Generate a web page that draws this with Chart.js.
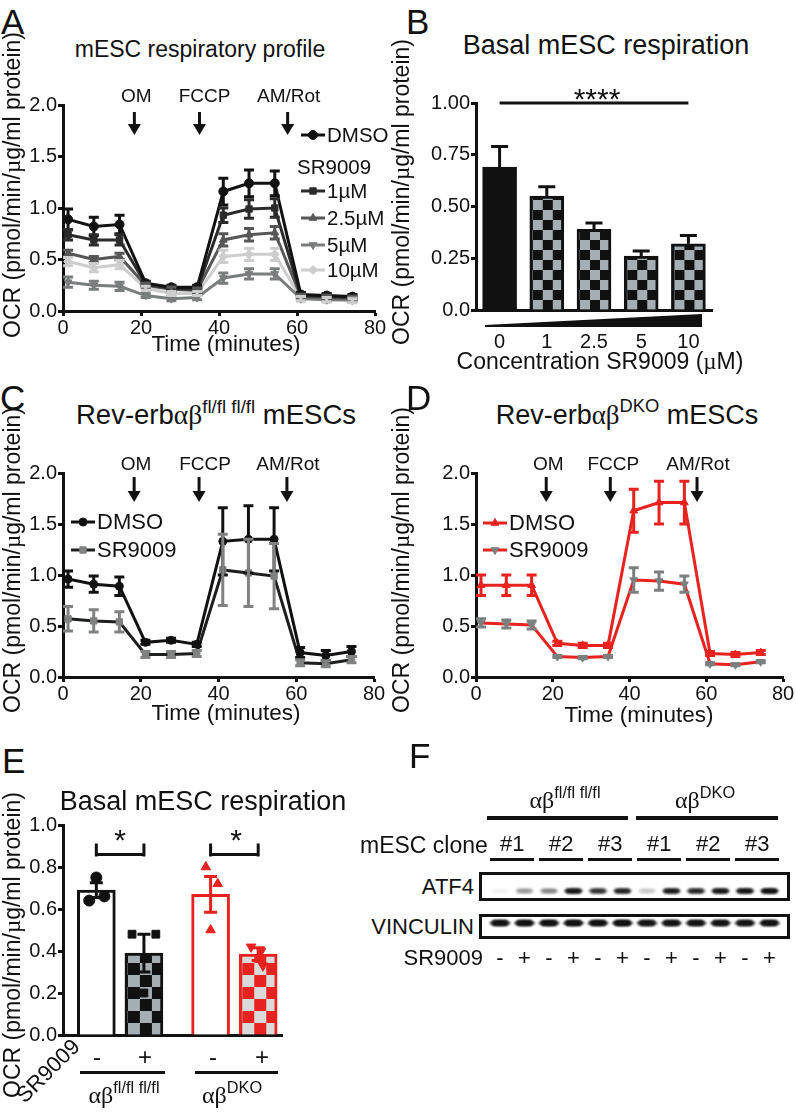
<!DOCTYPE html>
<html lang="en">
<head>
<meta charset="UTF-8">
<title>SR9009 and mESC respiration</title>
<script src="https://cdn.jsdelivr.net/npm/chart.js"></script>
<style>
  body { margin: 0; background: #fff; }
  #fig { position: relative; width: 796px; height: 1118px; overflow: hidden;
         font-family: "Liberation Sans", Arial, sans-serif; color: #111; }
  #fig canvas { position: absolute; }
  .t { position: absolute; white-space: nowrap; line-height: 1; }
  .t sup { font-size: 0.68em; vertical-align: 0.6em; line-height: 0; }
  .gr { font-family: "Liberation Serif", "DejaVu Serif", serif; }
  .rule { position: absolute; background: #111; }
  .box { position: absolute; border: 3px solid #111; box-sizing: border-box; }
</style>
</head>
<body>
<div id="fig">
  <canvas id="chartA" width="400" height="280" style="left:0;top:80px"></canvas>
  <canvas id="chartB" width="396" height="300" style="left:400px;top:80px"></canvas>
  <canvas id="chartC" width="400" height="290" style="left:0;top:440px"></canvas>
  <canvas id="chartD" width="396" height="290" style="left:400px;top:440px"></canvas>
  <canvas id="chartE" width="300" height="260" style="left:0;top:790px"></canvas>
  <div class="box" style="left:479px;top:872px;width:311px;height:29px"></div>
  <div class="box" style="left:479px;top:914px;width:311px;height:25px"></div>
  <canvas id="chartF" width="311" height="78" style="left:479px;top:868px"></canvas>
</div>
<script>
  // ---- data ----
  const timeMin = [1.3, 7.9, 14.5, 21.2, 27.8, 34.4, 41.1, 47.7, 54.3, 61.0, 67.6, 74.2];
  const injectNames = ['OM', 'FCCP', 'AM/Rot'];
  const injectTimes = [18.3, 35.0, 57.6];

  // A: respiratory profile, SR9009 dose series
  const aDMSO    = [0.89, 0.82, 0.84, 0.27, 0.23, 0.23, 1.16, 1.24, 1.24, 0.16, 0.15, 0.14];
  const aDMSOErr = [0.10, 0.09, 0.09, 0.02, 0.02, 0.02, 0.13, 0.13, 0.12, 0.02, 0.02, 0.02];
  const a1uM     = [0.74, 0.69, 0.69, 0.26, 0.22, 0.21, 0.93, 0.99, 1.00, 0.15, 0.14, 0.13];
  const a1uMErr  = [0.05, 0.05, 0.05, 0.02, 0.02, 0.02, 0.07, 0.09, 0.09, 0.02, 0.02, 0.02];
  const a25uM    = [0.56, 0.50, 0.53, 0.25, 0.21, 0.20, 0.69, 0.74, 0.76, 0.14, 0.13, 0.12];
  const a25uMErr = [0.03, 0.03, 0.03, 0.02, 0.02, 0.02, 0.06, 0.06, 0.06, 0.02, 0.02, 0.02];
  const a5uM     = [0.28, 0.25, 0.24, 0.15, 0.12, 0.13, 0.32, 0.36, 0.36, 0.12, 0.11, 0.11];
  const a5uMErr  = [0.05, 0.04, 0.04, 0.02, 0.02, 0.02, 0.05, 0.05, 0.05, 0.02, 0.02, 0.02];
  const a10uM    = [0.48, 0.42, 0.45, 0.22, 0.17, 0.17, 0.53, 0.55, 0.55, 0.12, 0.11, 0.10];
  const a10uMErr = [0.04, 0.04, 0.04, 0.02, 0.02, 0.02, 0.06, 0.06, 0.06, 0.02, 0.02, 0.02];

  // B: basal respiration by dose
  const bLabels = ['0', '1', '2.5', '5', '10'];
  const bMean   = [0.69, 0.55, 0.39, 0.26, 0.32];
  const bErr    = [0.10, 0.045, 0.03, 0.025, 0.04];

  // C: floxed cells
  const cDMSO    = [0.96, 0.91, 0.89, 0.34, 0.36, 0.32, 1.33, 1.35, 1.35, 0.24, 0.21, 0.25];
  const cDMSOErr = [0.08, 0.08, 0.09, 0.02, 0.02, 0.02, 0.33, 0.33, 0.31, 0.05, 0.05, 0.05];
  const cSR      = [0.57, 0.55, 0.54, 0.22, 0.22, 0.23, 1.05, 1.02, 0.99, 0.14, 0.13, 0.17];
  const cSRErr   = [0.12, 0.11, 0.10, 0.03, 0.03, 0.03, 0.35, 0.33, 0.32, 0.03, 0.03, 0.03];

  // D: DKO cells
  const dDMSO    = [0.90, 0.90, 0.90, 0.33, 0.31, 0.31, 1.63, 1.71, 1.71, 0.23, 0.22, 0.24];
  const dDMSOErr = [0.10, 0.10, 0.10, 0.02, 0.02, 0.02, 0.21, 0.21, 0.21, 0.02, 0.02, 0.02];
  const dSR      = [0.53, 0.52, 0.51, 0.20, 0.19, 0.20, 0.95, 0.94, 0.91, 0.13, 0.12, 0.15];
  const dSRErr   = [0.04, 0.04, 0.04, 0.01, 0.01, 0.01, 0.12, 0.09, 0.08, 0.01, 0.01, 0.01];

  // E: basal respiration, genotype x SR9009
  const eMean = [0.69, 0.39, 0.67, 0.385];
  const eErr  = [0.035, 0.09, 0.085, 0.03];
  const eDots = [[0.75, 0.64, 0.66], [0.48, 0.48, 0.20], [0.80, 0.72, 0.50], [0.42, 0.40, 0.33]];

  // F: blot band strength per lane (0..1)
  const fSR9009  = ['-', '+', '-', '+', '-', '+', '-', '+', '-', '+', '-', '+'];
  const fClones  = ['#1', '#2', '#3', '#1', '#2', '#3'];
  const atf4Band = [0.03, 0.25, 0.3, 0.9, 0.65, 0.75, 0.12, 0.82, 0.72, 0.86, 0.9, 0.97];
  const vinBand  = [0.95, 0.95, 0.97, 0.97, 0.97, 1.0, 0.9, 0.93, 0.93, 0.93, 0.9, 0.95];

  // ---- layout-only numbers ----
  const eBarX = [0.7, 1.7, 3.1, 4.1];
  const eJitter = [[0, -0.15, 0.17], [-0.25, 0.25, 0], [-0.1, 0.15, 0], [-0.15, 0.06, 0.1]];

  const FONT = "'Liberation Sans', Arial, sans-serif";
  const RED = '#e8221e';
  Chart.defaults.font.family = FONT;
  Chart.defaults.color = '#111';
  Chart.defaults.animation = false;
  Chart.defaults.responsive = false;
  Chart.defaults.devicePixelRatio = 1;
  Chart.defaults.events = [];
  Chart.defaults.plugins.legend.display = false;
  Chart.defaults.plugins.tooltip.enabled = false;

  // error bars for any dataset carrying an err array
  const errorBars = {
    id: 'errorBars',
    afterDatasetsDraw(chart) {
      const ctx = chart.ctx, ys = chart.scales.y;
      chart.data.datasets.forEach((ds, di) => {
        if (!ds.err) return;
        const meta = chart.getDatasetMeta(di);
        const cap = ds.capWidth || 10;
        ctx.save();
        ctx.lineWidth = 3;
        meta.data.forEach((el, i) => {
          const d = ds.data[i];
          const v = typeof d === 'object' ? d.y : d;
          const top = ys.getPixelForValue(v + ds.err[i]);
          const bot = ds.errUpOnly ? el.y : ys.getPixelForValue(v - ds.err[i]);
          ctx.strokeStyle = Array.isArray(ds.errColor) ? ds.errColor[i] : ds.errColor;
          ctx.beginPath();
          ctx.moveTo(el.x, top); ctx.lineTo(el.x, bot);
          ctx.moveTo(el.x - cap / 2, top); ctx.lineTo(el.x + cap / 2, top);
          if (!ds.errUpOnly) { ctx.moveTo(el.x - cap / 2, bot); ctx.lineTo(el.x + cap / 2, bot); }
          ctx.stroke();
        });
        ctx.restore();
      });
    }
  };

  // injection arrows above the time courses
  function injectionPlugin(labelY, top, bottom, dx) {
    return {
      id: 'injections',
      afterDraw(chart) {
        const ctx = chart.ctx, xs = chart.scales.x;
        ctx.save();
        ctx.fillStyle = '#111'; ctx.strokeStyle = '#111';
        ctx.font = '19px ' + FONT; ctx.textAlign = 'center'; ctx.textBaseline = 'middle';
        injectTimes.forEach((t, i) => {
          const x = xs.getPixelForValue(t);
          ctx.fillText(injectNames[i], x + dx[i], labelY);
          ctx.lineWidth = 3;
          ctx.beginPath(); ctx.moveTo(x, top); ctx.lineTo(x, bottom - 6); ctx.stroke();
          ctx.beginPath();
          ctx.moveTo(x - 6.5, bottom - 11); ctx.lineTo(x + 6.5, bottom - 11); ctx.lineTo(x, bottom);
          ctx.closePath(); ctx.fill();
        });
        ctx.restore();
      }
    };
  }

  // line + marker legend drawn in the plot
  function legendPlugin(items, size) {
    return {
      id: 'swatches',
      afterDraw(chart) {
        const ctx = chart.ctx;
        ctx.save();
        ctx.font = size + 'px ' + FONT;
        ctx.textBaseline = 'middle';
        items.forEach(it => {
          if (it.ds === undefined) {
            ctx.fillStyle = '#111';
            ctx.fillText(it.text, it.x, it.y + 1);
            return;
          }
          const ds = chart.data.datasets[it.ds];
          ctx.strokeStyle = ds.borderColor; ctx.lineWidth = 3;
          ctx.beginPath(); ctx.moveTo(it.x, it.y); ctx.lineTo(it.x + 24, it.y); ctx.stroke();
          ctx.fillStyle = ds.pointBackgroundColor; ctx.strokeStyle = ds.pointBorderColor; ctx.lineWidth = 1;
          Chart.helpers.drawPoint(ctx, { pointStyle: ds.pointStyle, radius: ds.pointRadius,
            rotation: ds.pointRotation || 0, borderWidth: 1 }, it.x + 12, it.y);
          ctx.fillStyle = '#111';
          ctx.fillText(it.text, it.x + 26, it.y + 1);
        });
        ctx.restore();
      }
    };
  }

  function checker(chart, c1, c2, cell, ox, oy) {
    const off = document.createElement('canvas');
    off.width = off.height = cell * 2;
    const g = off.getContext('2d');
    g.fillStyle = c1; g.fillRect(0, 0, cell * 2, cell * 2);
    g.fillStyle = c2; g.fillRect(cell, 0, cell, cell); g.fillRect(0, cell, cell, cell);
    const p = chart.ctx.createPattern(off, 'repeat');
    p.setTransform(new DOMMatrix([1, 0, 0, 1, ox, oy]));
    return p;
  }
  function barChecker(c, thick, c1, c2, cell) {
    const xs = c.chart.scales.x, ys = c.chart.scales.y;
    if (c.raw === undefined || !xs || !ys) return c2;
    const xv = typeof c.raw === 'object' ? c.raw.x : c.dataIndex;
    return checker(c.chart, c1, c2, cell, xs.getPixelForValue(xv) - thick / 2 + 3, ys.getPixelForValue(0));
  }

  // soft blot band used as a point marker
  function bandImage(strength, w, h) {
    const c = document.createElement('canvas');
    c.width = w + 6; c.height = h + 6;
    const g = c.getContext('2d');
    g.filter = 'blur(0.8px)';
    g.fillStyle = `rgba(18,18,18,${strength})`;
    g.beginPath();
    g.ellipse(c.width / 2, c.height / 2, w / 2, h / 2, 0, 0, Math.PI * 2);
    g.fill();
    g.fillRect(3 + h / 2, 3, w - h, h);
    return c;
  }

  function lineSeries(vals, errs, color, markColor, style, rot) {
    return {
      data: timeMin.map((t, i) => ({ x: t, y: vals[i] })),
      err: errs, errColor: markColor,
      borderColor: color, backgroundColor: markColor,
      pointBackgroundColor: markColor, pointBorderColor: markColor,
      pointStyle: style, pointRotation: rot || 0,
      pointRadius: 4.5, pointBorderWidth: 1, borderWidth: 3
    };
  }
  function timeAxis() {
    return {
      type: 'linear', min: 0, max: 80,
      ticks: { stepSize: 20, font: { size: 20 }, color: '#111', padding: 0 },
      grid: { drawOnChartArea: false, tickLength: 5, tickWidth: 3, tickColor: '#111' },
      border: { color: '#111', width: 3 },
      afterFit: s => { s.height = 30; }
    };
  }
  function valueAxis(max, step, digits, width) {
    return {
      min: 0, max: max,
      ticks: { stepSize: step, font: { size: 20 }, color: '#111', padding: 1,
               callback: v => v === 0 ? '0.0' : v.toFixed(digits) },
      grid: { drawOnChartArea: false, tickLength: 5, tickWidth: 3, tickColor: '#111' },
      border: { color: '#111', width: 3 },
      afterFit: s => { s.width = width; }
    };
  }

  // ---- A ----
  new Chart(document.getElementById('chartA'), {
    type: 'line',
    data: { datasets: [
      lineSeries(aDMSO, aDMSOErr, '#111', '#111', 'circle'),
      lineSeries(a1uM, a1uMErr, '#2b2b2b', '#2b2b2b', 'rect'),
      lineSeries(a25uM, a25uMErr, '#575757', '#575757', 'triangle'),
      lineSeries(a5uM, a5uMErr, '#7a7d7d', '#7a7d7d', 'triangle', 180),
      lineSeries(a10uM, a10uMErr, '#cdcdcd', '#cdcdcd', 'rectRot')
    ]},
    options: {
      layout: { padding: { left: 0, top: 25, right: 25, bottom: 19 } },
      scales: { x: timeAxis(), y: valueAxis(2, 0.5, 1, 63) }
    },
    plugins: [errorBars, injectionPlugin(17, 32, 55, [2, 5, 1]), legendPlugin([
      { ds: 0, x: 301, y: 55, text: 'DMSO' },
      { x: 297, y: 87, text: 'SR9009' },
      { ds: 1, x: 301, y: 111, text: '1µM' },
      { ds: 2, x: 301, y: 138, text: '2.5µM' },
      { ds: 3, x: 301, y: 165, text: '5µM' },
      { ds: 4, x: 301, y: 190, text: '10µM' }
    ], 20.5)]
  });

  // ---- B ----
  const sigLineB = {
    id: 'sigLine',
    afterDraw(chart) {
      const ctx = chart.ctx, xs = chart.scales.x, ys = chart.scales.y;
      ctx.save(); ctx.strokeStyle = '#111'; ctx.lineWidth = 3;
      ctx.beginPath();
      ctx.moveTo(xs.getPixelForValue(0), ys.getPixelForValue(1));
      ctx.lineTo(xs.getPixelForValue(bLabels.length - 1), ys.getPixelForValue(1));
      ctx.stroke(); ctx.restore();
    }
  };
  new Chart(document.getElementById('chartB'), {
    type: 'bar',
    data: { labels: bLabels, datasets: [{
      data: bMean, err: bErr, errUpOnly: true, errColor: '#111', capWidth: 17,
      barThickness: 34, borderWidth: 3, borderColor: '#111',
      backgroundColor: c => c.dataIndex === 0 ? '#111' : barChecker(c, 34, '#111', '#a4aeb3', 10)
    }]},
    options: {
      layout: { padding: { left: 0, top: 23, right: 84, bottom: 20 } },
      scales: {
        x: { ticks: { font: { size: 20 }, color: '#111', padding: 20 },
             grid: { drawOnChartArea: false, drawTicks: false },
             border: { color: '#111', width: 3 },
             afterFit: s => { s.height = 50; } },
        y: valueAxis(1, 0.25, 2, 76)
      }
    },
    plugins: [errorBars, sigLineB]
  });

  // ---- C ----
  new Chart(document.getElementById('chartC'), {
    type: 'line',
    data: { datasets: [
      Object.assign(lineSeries(cDMSO, cDMSOErr, '#111', '#111', 'circle'), { pointRadius: 4 }),
      lineSeries(cSR, cSRErr, '#1e1e1e', '#808282', 'rect')
    ]},
    options: {
      layout: { padding: { left: 0, top: 33, right: 26, bottom: 23 } },
      scales: { x: timeAxis(), y: valueAxis(2, 0.5, 1, 63) }
    },
    plugins: [errorBars, injectionPlugin(25, 37, 62, [2, 6, 1]), legendPlugin([
      { ds: 0, x: 71, y: 82, text: 'DMSO' },
      { ds: 1, x: 71, y: 110, text: 'SR9009' }
    ], 22)]
  });

  // ---- D ----
  new Chart(document.getElementById('chartD'), {
    type: 'line',
    data: { datasets: [
      lineSeries(dDMSO, dDMSOErr, RED, RED, 'triangle'),
      lineSeries(dSR, dSRErr, RED, '#7b7f80', 'triangle', 180)
    ]},
    options: {
      layout: { padding: { left: 0, top: 33, right: 13, bottom: 23 } },
      scales: { x: timeAxis(), y: valueAxis(2, 0.5, 1, 76) }
    },
    plugins: [errorBars, injectionPlugin(25, 37, 62, [2, 3, 1]), legendPlugin([
      { ds: 0, x: 83, y: 83, text: 'DMSO' },
      { ds: 1, x: 83, y: 110, text: 'SR9009' }
    ], 22)]
  });

  // ---- E ----
  const eBrackets = {
    id: 'brackets',
    afterDraw(chart) {
      const ctx = chart.ctx, xs = chart.scales.x, ys = chart.scales.y;
      ctx.save(); ctx.strokeStyle = '#111'; ctx.lineWidth = 3;
      [[0, 1], [2, 3]].forEach(([a, b]) => {
        const x1 = xs.getPixelForValue(eBarX[a]), x2 = xs.getPixelForValue(eBarX[b]);
        const y = ys.getPixelForValue(0.86);
        ctx.beginPath();
        ctx.moveTo(x1, y - 11); ctx.lineTo(x1, y + 2);
        ctx.moveTo(x1, y); ctx.lineTo(x2, y);
        ctx.moveTo(x2, y - 11); ctx.lineTo(x2, y + 2);
        ctx.stroke();
      });
      ctx.restore();
    }
  };
  const eStyles = [
    { style: 'circle', color: '#111', rot: 0 },
    { style: 'rect', color: '#111', rot: 0 },
    { style: 'triangle', color: RED, rot: 0 },
    { style: 'triangle', color: RED, rot: 180 }
  ];
  const eBgs = [
    () => '#fff',
    c => barChecker(c, 38, '#111', '#a4aeb3', 12),
    () => '#fff',
    c => barChecker(c, 38, RED, '#dadada', 12)
  ];
  new Chart(document.getElementById('chartE'), {
    type: 'bar',
    data: { datasets: [
      {
        type: 'bar', order: 2,
        data: eBarX.map((x, i) => ({ x: x, y: eMean[i] })),
        err: eErr, errColor: ['#111', '#111', RED, RED], capWidth: 13,
        barThickness: 38, borderWidth: 3,
        borderColor: ['#111', '#111', RED, RED],
        backgroundColor: c => c.dataIndex === undefined ? '#fff' : eBgs[c.dataIndex](c)
      }
    ].concat(eDots.map((dots, g) => ({
      type: 'scatter', order: 0,
      data: dots.map((v, k) => ({ x: eBarX[g] + eJitter[g][k], y: v })),
      pointStyle: eStyles[g].style, pointRotation: eStyles[g].rot,
      pointRadius: 5.5, pointBackgroundColor: eStyles[g].color, pointBorderColor: eStyles[g].color
    })))},
    options: {
      layout: { padding: { left: 0, top: 35, right: 18, bottom: 13 } },
      scales: {
        x: { type: 'linear', min: 0, max: 4.6, offset: false,
             ticks: { display: false },
             grid: { drawOnChartArea: false, drawTicks: false },
             border: { color: '#111', width: 3 },
             afterFit: s => { s.height = 2; } },
        y: valueAxis(1, 0.2, 1, 63)
      }
    },
    plugins: [errorBars, eBrackets]
  });

  // ---- F (blot bands on lane x row scales) ----
  const lanes = fSR9009.map((s, i) => i);
  new Chart(document.getElementById('chartF'), {
    type: 'scatter',
    data: { datasets: [
      { data: lanes.map(i => ({ x: i, y: 'ATF4' })), pointRadius: 6,
        pointStyle: atf4Band.map(v => bandImage(v, 19, 5)) },
      { data: lanes.map(i => ({ x: i, y: 'VINCULIN' })), pointRadius: 6,
        pointStyle: vinBand.map(v => bandImage(v, 21, 6)) }
    ]},
    options: {
      layout: { padding: { left: 8.75, right: 8.25, top: 0, bottom: 0 } },
      scales: {
        x: { type: 'linear', min: -0.5, max: 11.5, display: false },
        y: { type: 'category', labels: ['ATF4', 'VINCULIN'], offset: true, display: false }
      }
    }
  });

  // ---- text ----
  const fig = document.getElementById('fig');
  function put(html, x, y, size, align, rot) {
    const d = document.createElement('div');
    d.className = 't';
    d.innerHTML = html;
    d.style.left = x + 'px'; d.style.top = y + 'px'; d.style.fontSize = size + 'px';
    const tx = align === 'left' ? '0' : align === 'right' ? '-100%' : '-50%';
    d.style.transform = `translate(${tx},-50%)` + (rot ? ` rotate(${rot}deg)` : '');
    fig.appendChild(d);
  }
  function rule(x1, x2, y, h) {
    const d = document.createElement('div');
    d.className = 'rule';
    d.style.left = x1 + 'px'; d.style.top = (y - h / 2) + 'px';
    d.style.width = (x2 - x1) + 'px'; d.style.height = h + 'px';
    fig.appendChild(d);
  }

  put('A', 1, 21, 35, 'left'); put('B', 406, 21, 35, 'left');
  put('C', 0, 397, 35, 'left'); put('D', 406, 397, 35, 'left');
  put('E', 2, 760, 35, 'left'); put('F', 409, 755, 35, 'left');

  put('mESC respiratory profile', 200, 49, 23);
  put('Basal mESC respiration', 606, 45, 27);
  put('Rev-erb<span class="gr">αβ</span><sup>fl/fl fl/fl</sup> mESCs', 216, 415, 27.5);
  put('Rev-erb<span class="gr">αβ</span><sup>DKO</sup> mESCs', 627, 415, 27);
  put('Basal mESC respiration', 203, 801, 27);

  const ocr = 'OCR (pmol/min/<span class="gr">µ</span>g/ml protein)';
  put(ocr, 12, 185, 23, 'center', -90);
  put(ocr, 401, 192, 23, 'center', -90);
  put(ocr, 12, 560, 23, 'center', -90);
  put(ocr, 401, 560, 23, 'center', -90);
  put(ocr, 12, 945, 23, 'center', -90);

  put('Time (minutes)', 226, 344, 22.5);
  put('Time (minutes)', 226, 713, 22.5);
  put('Time (minutes)', 639, 715, 22.5);
  put('Concentration SR9009 (<span class="gr">µ</span>M)', 600, 361, 23);

  // dose wedge under B
  const wedge = document.createElement('div');
  wedge.style.cssText = 'position:absolute;left:485px;top:314px;width:217px;height:13px;background:#111;' +
    'clip-path:polygon(0 85%,100% 0,100% 100%,0 100%)';
  fig.appendChild(wedge);

  put('****', 597, 99, 30);
  put('*', 120, 840, 30); put('*', 236, 840, 30);

  // E group labels
  ['-', '+', '-', '+'].forEach((s, i) => put(s, [97, 145, 213, 262][i], 1057, 24));
  rule(80, 165, 1072, 3); rule(195, 278, 1072, 3);
  put('<span class="gr">αβ</span><sup>fl/fl fl/fl</sup>', 124, 1095, 24);
  put('<span class="gr">αβ</span><sup>DKO</sup>', 232, 1095, 24);
  put('SR9009', 48, 1071, 22, 'center', -45);

  // F labels
  put('<span class="gr">αβ</span><sup>fl/fl fl/fl</sup>', 565, 800, 24);
  put('<span class="gr">αβ</span><sup>DKO</sup>', 705, 800, 24);
  rule(487, 628, 818, 4); rule(636, 778, 818, 4);
  put('mESC clone', 360, 845, 23, 'left');
  fClones.forEach((c, k) => {
    const cx = 500 + 24.5 * (2 * k + 0.5);
    put(c, cx, 844, 22);
    rule(cx - 22, cx + 22, 859, 3);
  });
  put('ATF4', 474, 887, 22, 'right');
  put('VINCULIN', 474, 927, 22, 'right');
  put('SR9009', 483, 958, 22, 'right');
  fSR9009.forEach((s, i) => put(s, 500 + 24.5 * i, 958, 22));
</script>
</body>
</html>
